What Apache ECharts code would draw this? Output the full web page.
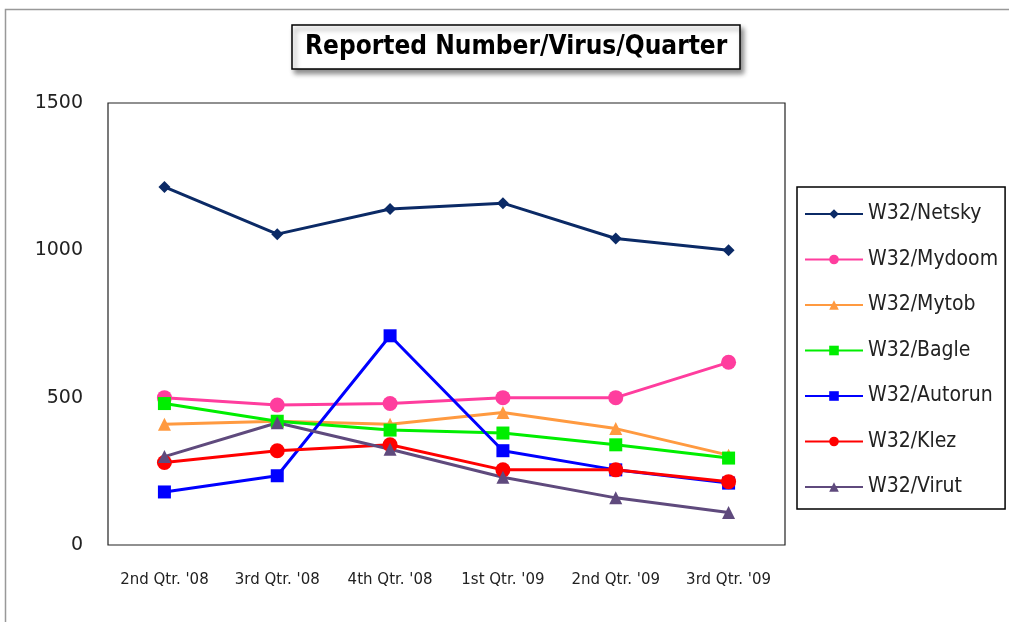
<!DOCTYPE html>
<html><head><meta charset="utf-8">
<script src="https://cdn.jsdelivr.net/npm/echarts@6/dist/echarts.min.js"></script>
<style>html,body{margin:0;padding:0;background:#fff}#c{width:1009px;height:622px}</style>
</head><body><div id="c"></div>
<script>
const categories = ["2nd Qtr. '08","3rd Qtr. '08","4th Qtr. '08","1st Qtr. '09","2nd Qtr. '09","3rd Qtr. '09"];
const netsky  = [1215, 1055, 1140, 1160, 1040, 1000];
const mydoom  = [500, 475, 480, 500, 500, 620];
const mytob   = [410, 420, 410, 450, 395, 305];
const bagle   = [480, 420, 390, 380, 340, 295];
const autorun = [180, 235, 710, 320, 255, 210];
const klez    = [280, 320, 340, 255, 255, 215];
const virut   = [300, 415, 325, 230, 160, 110];
const yTicks = [0, 500, 1000, 1500];

const defs = [
  ['W32/Netsky', netsky, '#0b2a66', 'diamond', 12],
  ['W32/Mydoom', mydoom, '#ff3d9e', 'circle', 15],
  ['W32/Mytob', mytob, '#ff9a40', 'triangle', 13],
  ['W32/Bagle', bagle, '#00ee00', 'rect', 13],
  ['W32/Autorun', autorun, '#0000ff', 'rect', 13],
  ['W32/Klez', klez, '#ff0000', 'circle', 15],
  ['W32/Virut', virut, '#5f4a7d', 'triangle', 13]
];

const chart = echarts.init(document.getElementById('c'));
chart.setOption({
  animation: false,
  backgroundColor: '#fff',
  title: {
    text: 'Reported Number/Virus/Quarter',
    left: 292, top: 25,
    padding: [9, 13, 9, 13],
    borderColor: '#000', borderWidth: 1.5,
    backgroundColor: '#fff',
    shadowColor: 'rgba(0,0,0,0.45)', shadowBlur: 5, shadowOffsetX: 3, shadowOffsetY: 4,
    textStyle: { fontFamily: 'DejaVu Sans Condensed', fontWeight: 'bold', fontSize: 26, color: '#000' }
  },
  graphic: [{
    type: 'rect', z: -1,
    shape: { x: 5.5, y: 9.5, width: 1100, height: 700 },
    style: { fill: 'none', stroke: '#999', lineWidth: 1.5 }
  }],
  legend: {
    orient: 'vertical', left: 797, top: 187,
    padding: [16.5, 7, 11.5, 7],
    itemGap: 24.5, itemWidth: 58, itemHeight: 12,
    borderColor: '#000', borderWidth: 1.5,
    textStyle: { fontFamily: 'DejaVu Sans Condensed', fontSize: 21, color: '#222' },
    data: defs.map(d => d[0])
  },
  grid: { left: 108, top: 103, width: 677, height: 442, show: true, borderColor: '#222', borderWidth: 1.2, backgroundColor: '#fff' },
  xAxis: {
    type: 'category', data: categories, boundaryGap: true,
    axisLine: { show: false }, axisTick: { show: false },
    axisLabel: { interval: 0, hideOverlap: false, margin: 28, fontFamily: 'DejaVu Sans', fontSize: 15, color: '#222' }
  },
  yAxis: {
    type: 'value', min: yTicks[0], max: yTicks[yTicks.length - 1], interval: 500,
    axisLine: { show: false }, axisTick: { show: false }, splitLine: { show: false },
    axisLabel: { margin: 25, fontFamily: 'DejaVu Sans', fontSize: 19, color: '#222',
      formatter: v => String(v) }
  },
  series: defs.map(d => ({
    name: d[0], type: 'line', data: d[1],
    symbol: d[3], symbolSize: d[4],
    lineStyle: { color: d[2], width: 3 },
    itemStyle: { color: d[2] }
  }))
});
</script>
</body></html>
